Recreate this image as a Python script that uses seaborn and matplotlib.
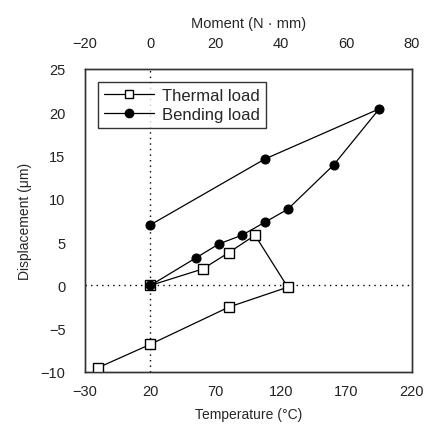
import matplotlib
matplotlib.use("Agg")
import matplotlib.pyplot as plt
import seaborn as sns
import pandas as pd
from matplotlib.lines import Line2D

# Thermal load: displacement vs temperature (loop order)
thermal_temp = [20, 60, 80, 100, 125, 80, 20, -20]
thermal_disp = [0.0, 1.9, 3.8, 5.8, -0.2, -2.5, -6.8, -9.5]

# Bending load: displacement vs moment (loop order)
bending_moment = [0, 14, 21, 28, 35, 42, 56, 70, 35, 0]
bending_disp = [0.0, 3.2, 4.8, 5.8, 7.3, 8.8, 13.9, 20.4, 14.6, 7.0]

temp_ticks = [-30, 20, 70, 120, 170, 220]
moment_ticks = [-20, 0, 20, 40, 60, 80]
disp_ticks = [-10, -5, 0, 5, 10, 15, 20, 25]

sns.set_theme(style="white")
plt.rcParams['font.family'] = ['Liberation Sans', 'DejaVu Sans']

fig = plt.figure(figsize=(4.29, 4.39), dpi=100)
ax = fig.add_axes([85/429, 1-373/439, 327/429, 303/439])
ax2 = ax.twiny()

dft = pd.DataFrame({"T": thermal_temp, "D": thermal_disp})
dfb = pd.DataFrame({"M": bending_moment, "D": bending_disp})

ax.axhline(0, color="black", lw=1, ls=(0, (1, 3)), zorder=1)
ax.axvline(20, color="black", lw=1, ls=(0, (1, 3)), zorder=1)

sns.lineplot(data=dft, x="T", y="D", sort=False, ax=ax, color="black", lw=0.9,
             marker="s", markersize=6.5, markerfacecolor="white",
             markeredgecolor="black", markeredgewidth=1, estimator=None, zorder=3)
sns.lineplot(data=dfb, x="M", y="D", sort=False, ax=ax2, color="black", lw=0.9,
             marker="o", markersize=6.5, markerfacecolor="black",
             markeredgecolor="black", estimator=None, zorder=4)

ax.set_xlim(-30, 220)
ax.set_ylim(-10, 25)
ax2.set_xlim(-20, 80)
ax.set_xticks(temp_ticks)
ax.set_yticks(disp_ticks)
ax2.set_xticks(moment_ticks)

ax.set_xlabel("Temperature (°C)", fontsize=10, labelpad=6)
ax.set_ylabel("Displacement (μm)", fontsize=10, labelpad=6)
ax2.set_xlabel("Moment (N · mm)", fontsize=10.5, labelpad=6)

for a in (ax, ax2):
    a.tick_params(length=0, labelsize=10.5, colors="#222222")
    for s in a.spines.values():
        s.set_color("#333333")
        s.set_linewidth(1)
ax.tick_params(axis="x", pad=9)
ax.tick_params(axis="y", pad=14)
ax2.tick_params(axis="x", pad=14)

handles = [
    Line2D([], [], color="black", lw=0.9, marker="s", markersize=6,
           markerfacecolor="white", markeredgecolor="black"),
    Line2D([], [], color="black", lw=0.9, marker="o", markersize=6,
           markerfacecolor="black", markeredgecolor="black"),
]
leg = ax2.legend(handles, ["Thermal load", "Bending load"], loc="upper left",
                 bbox_to_anchor=(0.015, 0.985), frameon=True, fancybox=False,
                 edgecolor="black", fontsize=12, handlelength=3,
                 borderpad=0.35, labelspacing=0.25, handletextpad=0.5)
leg.get_frame().set_linewidth(1)

fig.savefig("out.png", dpi=100)
